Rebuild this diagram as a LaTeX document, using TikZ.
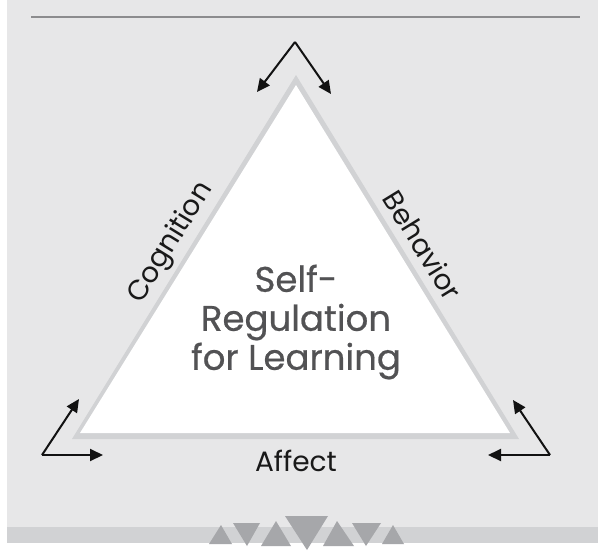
\documentclass[tikz,border=0pt]{standalone}
\usepackage{fontspec}
\setmainfont{Poppins}
\newfontfamily\titlefont{Poppins}[FakeBold=0.6]
\usetikzlibrary{arrows.meta}
\definecolor{bggray}{HTML}{E7E7E8}
\definecolor{rimgray}{HTML}{D1D2D4}
\definecolor{rulegray}{HTML}{8C8C8E}
\definecolor{textgray}{HTML}{525254}
\definecolor{markgray}{HTML}{A6A7AA}
\begin{document}
\begin{tikzpicture}[x=1pt,y=-1pt,
  cycarrow/.style={line width=2pt,draw=black!93,-{Triangle[length=13pt,width=12pt]}},
  sidelabel/.style={font=\fontsize{28}{30}\selectfont,text=black!90,inner sep=0pt},
  centertext/.style={font=\titlefont\fontsize{35.5}{39}\selectfont,text=textgray,align=center,inner sep=0pt},
  footmark/.style={fill=markgray,draw=none}]
  % page and background panel
  \useasboundingbox (0,0) rectangle (598,550);
  \fill[white] (0,0) rectangle (598,550);
  \fill[bggray] (7,0) rectangle (598,543);
  \fill[rimgray] (7,527) rectangle (598,543);
  % header rule
  \draw[rulegray,line width=1.5pt] (31,17) -- (580,17);
  % triangle with grey rim
  \fill[rimgray] (72,439) -- (519,439) -- (296,75) -- cycle;
  \fill[white] (80,433) -- (510,433) -- (296,85) -- cycle;
  % centre title
  \node[centertext] (title) at (296,322) {Self-\\Regulation\\for Learning};
  % side labels
  \node[sidelabel,rotate=58.4] (cog) at (171,243) {Cognition};
  \node[sidelabel,rotate=-58.4] (beh) at (423,245) {Behavior};
  \node[sidelabel] (aff) at (296,461) {Affect};
  % cycle arrows at the corners
  \coordinate (topc) at (295,42);
  \coordinate (topl) at (257,92);
  \coordinate (topr) at (331,94);
  \draw[cycarrow] (topc) -- (topl);
  \draw[cycarrow] (topc) -- (topr);
  \coordinate (blc) at (42,455);
  \coordinate (blr) at (103,455);
  \coordinate (blu) at (79,399);
  \draw[cycarrow] (blc) -- (blr);
  \draw[cycarrow] (blc) -- (blu);
  \coordinate (brc) at (550,455);
  \coordinate (brl) at (488,455);
  \coordinate (bru) at (513,400);
  \draw[cycarrow] (brc) -- (brl);
  \draw[cycarrow] (brc) -- (bru);
  % row of small triangles on the footer band
  \fill[footmark] (209,544) -- (232,544) -- (221,525) -- cycle;
  \fill[footmark] (233,523) -- (260,523) -- (247,546) -- cycle;
  \fill[footmark] (261,546) -- (291,546) -- (276,521) -- cycle;
  \fill[footmark] (285,516) -- (328,516) -- (307,550) -- cycle;
  \fill[footmark] (323,546) -- (354,546) -- (337,521) -- cycle;
  \fill[footmark] (352,523) -- (381,523) -- (366,546) -- cycle;
  \fill[footmark] (382,544) -- (404,544) -- (393,525) -- cycle;
\end{tikzpicture}
\end{document}
